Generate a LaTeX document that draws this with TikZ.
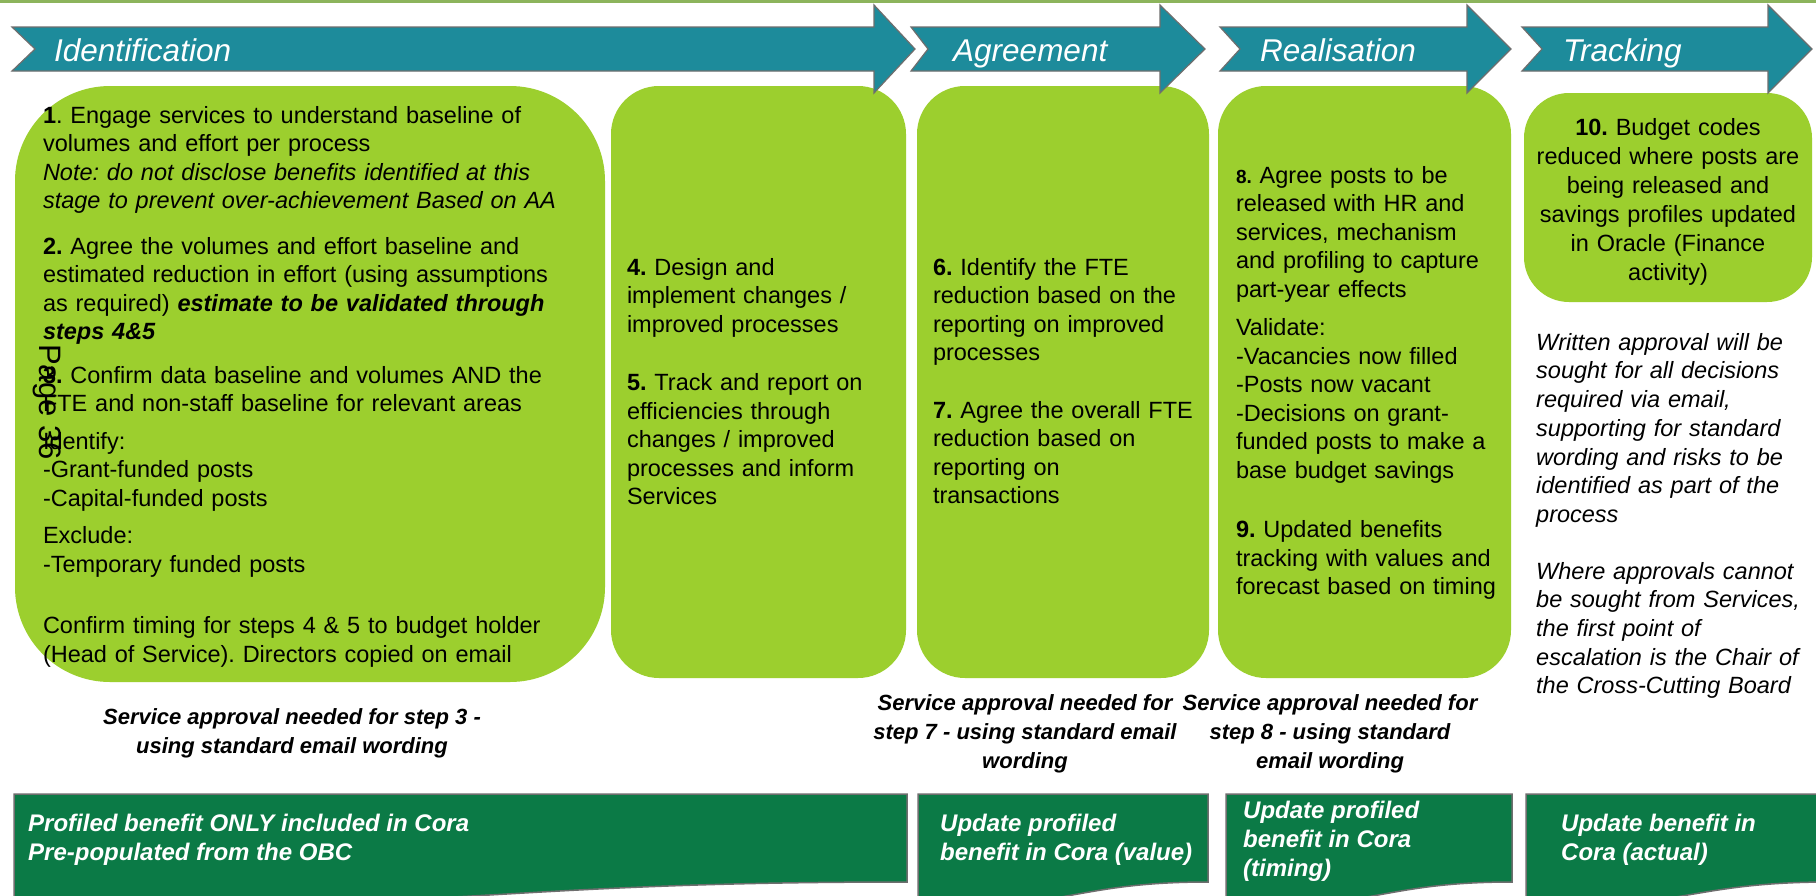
\documentclass[tikz,border=0pt]{standalone}
\usepackage{fontspec}
\setmainfont{Liberation Sans}
\frenchspacing
\usetikzlibrary{positioning}
\definecolor{Teal}{HTML}{1D8B9B}
\definecolor{Lime}{HTML}{9CCF2E}
\definecolor{Forest}{HTML}{0B7A46}
\definecolor{Rule}{HTML}{8CB45C}
\definecolor{Edge}{HTML}{6E6E6E}
\newcommand{\bodysize}{\fontsize{23.5}{28.5}\selectfont}
\newcommand{\capsize}{\fontsize{22}{29}\selectfont}
\newcommand{\headsize}{\fontsize{31.5}{36}\selectfont}
\tikzset{
  every node/.append style={inner sep=0pt},
  stage/.style={fill=Teal, draw=Edge, line width=1.2pt, line join=miter},
  stagelabel/.style={text=white, font=\headsize\itshape, anchor=base west},
  box/.style={fill=Lime, draw=none, rounded corners=#1},
  box/.default=48pt,
  steptext/.style={anchor=north west, align=left, font=\bodysize, text width=#1},
  note/.style={steptext=#1, font=\fontsize{23.5}{28.7}\selectfont\itshape},
  approval/.style={align=center, font=\capsize\bfseries\itshape, anchor=north},
  banner/.style={fill=Forest, draw=Edge, line width=1.5pt},
  bannertext/.style={anchor=north west, align=left, text=white,
                     font=\fontsize{24}{29}\selectfont\bfseries\itshape},
}

\begin{document}
\begin{tikzpicture}[x=1pt, y=-1pt]
  \clip (0,0) rectangle (1816,895);
  \fill[white] (0,0) rectangle (1816,895);
  \fill[Rule] (0,0) rectangle (1816,3);

  % green step boxes
  \node[box=95pt, minimum width=590pt, minimum height=596pt] (box1) at (310,384) {};
  \node[box, minimum width=295pt, minimum height=592pt] (box2) at (758.5,382) {};
  \node[box, minimum width=292pt, minimum height=592pt] (box3) at (1063,382) {};
  \node[box, minimum width=293pt, minimum height=592pt] (box4) at (1364.5,382) {};
  \node[box=45pt, minimum width=288pt, minimum height=209pt] (box5) at (1668,197.5) {};

  % stage chevrons: tail / notch / head / tip / label
  \foreach \t/\n/\h/\p/\lx/\lbl in {12/35/874/915/54/Identification,
      911/928/1160/1205/953/Agreement, 1220/1240/1467/1511/1260/Realisation,
      1522/1542/1768/1812/1563/Tracking} {
    \draw[stage] (\t,27) -- (\h,27) -- (\h,5) -- (\p,49) -- (\h,93)
      -- (\h,71) -- (\t,71) -- (\n,49) -- cycle;
    \node[stagelabel] (lbl\lbl) at (\lx,61) {\lbl};
  }

  \node[steptext=560pt, below right=20pt and 28pt of box1.north west] (txt1)
    {\textbf{1}. Engage services to understand baseline of\\
     volumes and effort per process\\
     {\itshape Note: do not disclose benefits identified at this}\\
     {\itshape stage to prevent over-achievement Based on AA}\\[17pt]
     \textbf{2.} Agree the volumes and effort baseline and\\
     estimated reduction in effort (using assumptions\\
     as required) {\bfseries\itshape estimate to be validated through}\\
     {\bfseries\itshape steps 4\&5}\\[15pt]
     \textbf{3.} Confirm data baseline and volumes AND the\\
     FTE and non-staff baseline for relevant areas\\[9pt]
     Identify:\\
     -Grant-funded posts\\
     -Capital-funded posts\\[9pt]
     Exclude:\\
     -Temporary funded posts\\[33pt]
     Confirm timing for steps 4 \& 5 to budget holder\\
     (Head of Service). Directors copied on email};
  \node[rotate=-90, font=\fontsize{31}{36}\selectfont] (pagemark) at (47,402) {Page 36};

  \node[steptext=280pt, below right=172pt and 16pt of box2.north west] (txt2)
    {\textbf{4.} Design and\\
     implement changes /\\
     improved processes\\[30pt]
     \textbf{5.} Track and report on\\
     efficiencies through\\
     changes / improved\\
     processes and inform\\
     Services};

  \node[steptext=280pt, below right=172pt and 16pt of box3.north west] (txt3)
    {\textbf{6.} Identify the FTE\\
     reduction based on the\\
     reporting on improved\\
     processes\\[29pt]
     \textbf{7.} Agree the overall FTE\\
     reduction based on\\
     reporting on\\
     transactions};

  \node[steptext=285pt, below right=80pt and 18pt of box4.north west] (txt4)
    {{\fontsize{19}{20}\selectfont\textbf{8.}} Agree posts to be\\
     released with HR and\\
     services, mechanism\\
     and profiling to capture\\
     part-year effects\\[10pt]
     Validate:\\
     -Vacancies now filled\\
     -Posts now vacant\\
     -Decisions on grant-\\
     funded posts to make a\\
     base budget savings\\[31pt]
     \textbf{9.} Updated benefits\\
     tracking with values and\\
     forecast based on timing};

  \node[steptext=280pt, align=center, anchor=north, below=25pt of box5.north,
        font=\fontsize{23.5}{29}\selectfont] (txt5)
    {\textbf{10.} Budget codes\\
     reduced where posts are\\
     being released and\\
     savings profiles updated\\
     in Oracle (Finance\\
     activity)};

  \node[note=285pt] (escalation) at (1536,333)
    {Written approval will be\\
     sought for all decisions\\
     required via email,\\
     supporting for standard\\
     wording and risks to be\\
     identified as part of the\\
     process\\[28pt]
     Where approvals cannot\\
     be sought from Services,\\
     the first point of\\
     escalation is the Chair of\\
     the Cross-Cutting Board};

  % approval captions
  \node[approval] (ok3) at (292,708)
    {Service approval needed for step 3 -\\ using standard email wording};
  \node[approval] (ok7) at (1025,694)
    {Service approval needed for\\ step 7 - using standard email\\ wording};
  \node[approval] (ok8) at (1330,694)
    {Service approval needed for\\ step 8 - using standard\\ email wording};

  % Cora banners
  \foreach \a/\b in {14/907, 918/1208, 1226/1512, 1526/1830} {
    \draw[banner] (\a,905) -- (\a,794) -- (\b,794) -- (\b,882)
      .. controls ({(\a+\b)/2},882) and ({(\a+\b)/2},916) .. (\a,897);
  }
  \node[bannertext] (cora1) at (28,814)
    {Profiled benefit ONLY included in Cora\\ Pre-populated from the OBC};
  \node[bannertext] (cora2) at (940,814)
    {Update profiled\\ benefit in Cora (value)};
  \node[bannertext] (cora3) at (1243,801)
    {Update profiled\\ benefit in Cora\\ (timing)};
  \node[bannertext] (cora4) at (1561,814)
    {Update benefit in\\ Cora (actual)};
\end{tikzpicture}
\end{document}
